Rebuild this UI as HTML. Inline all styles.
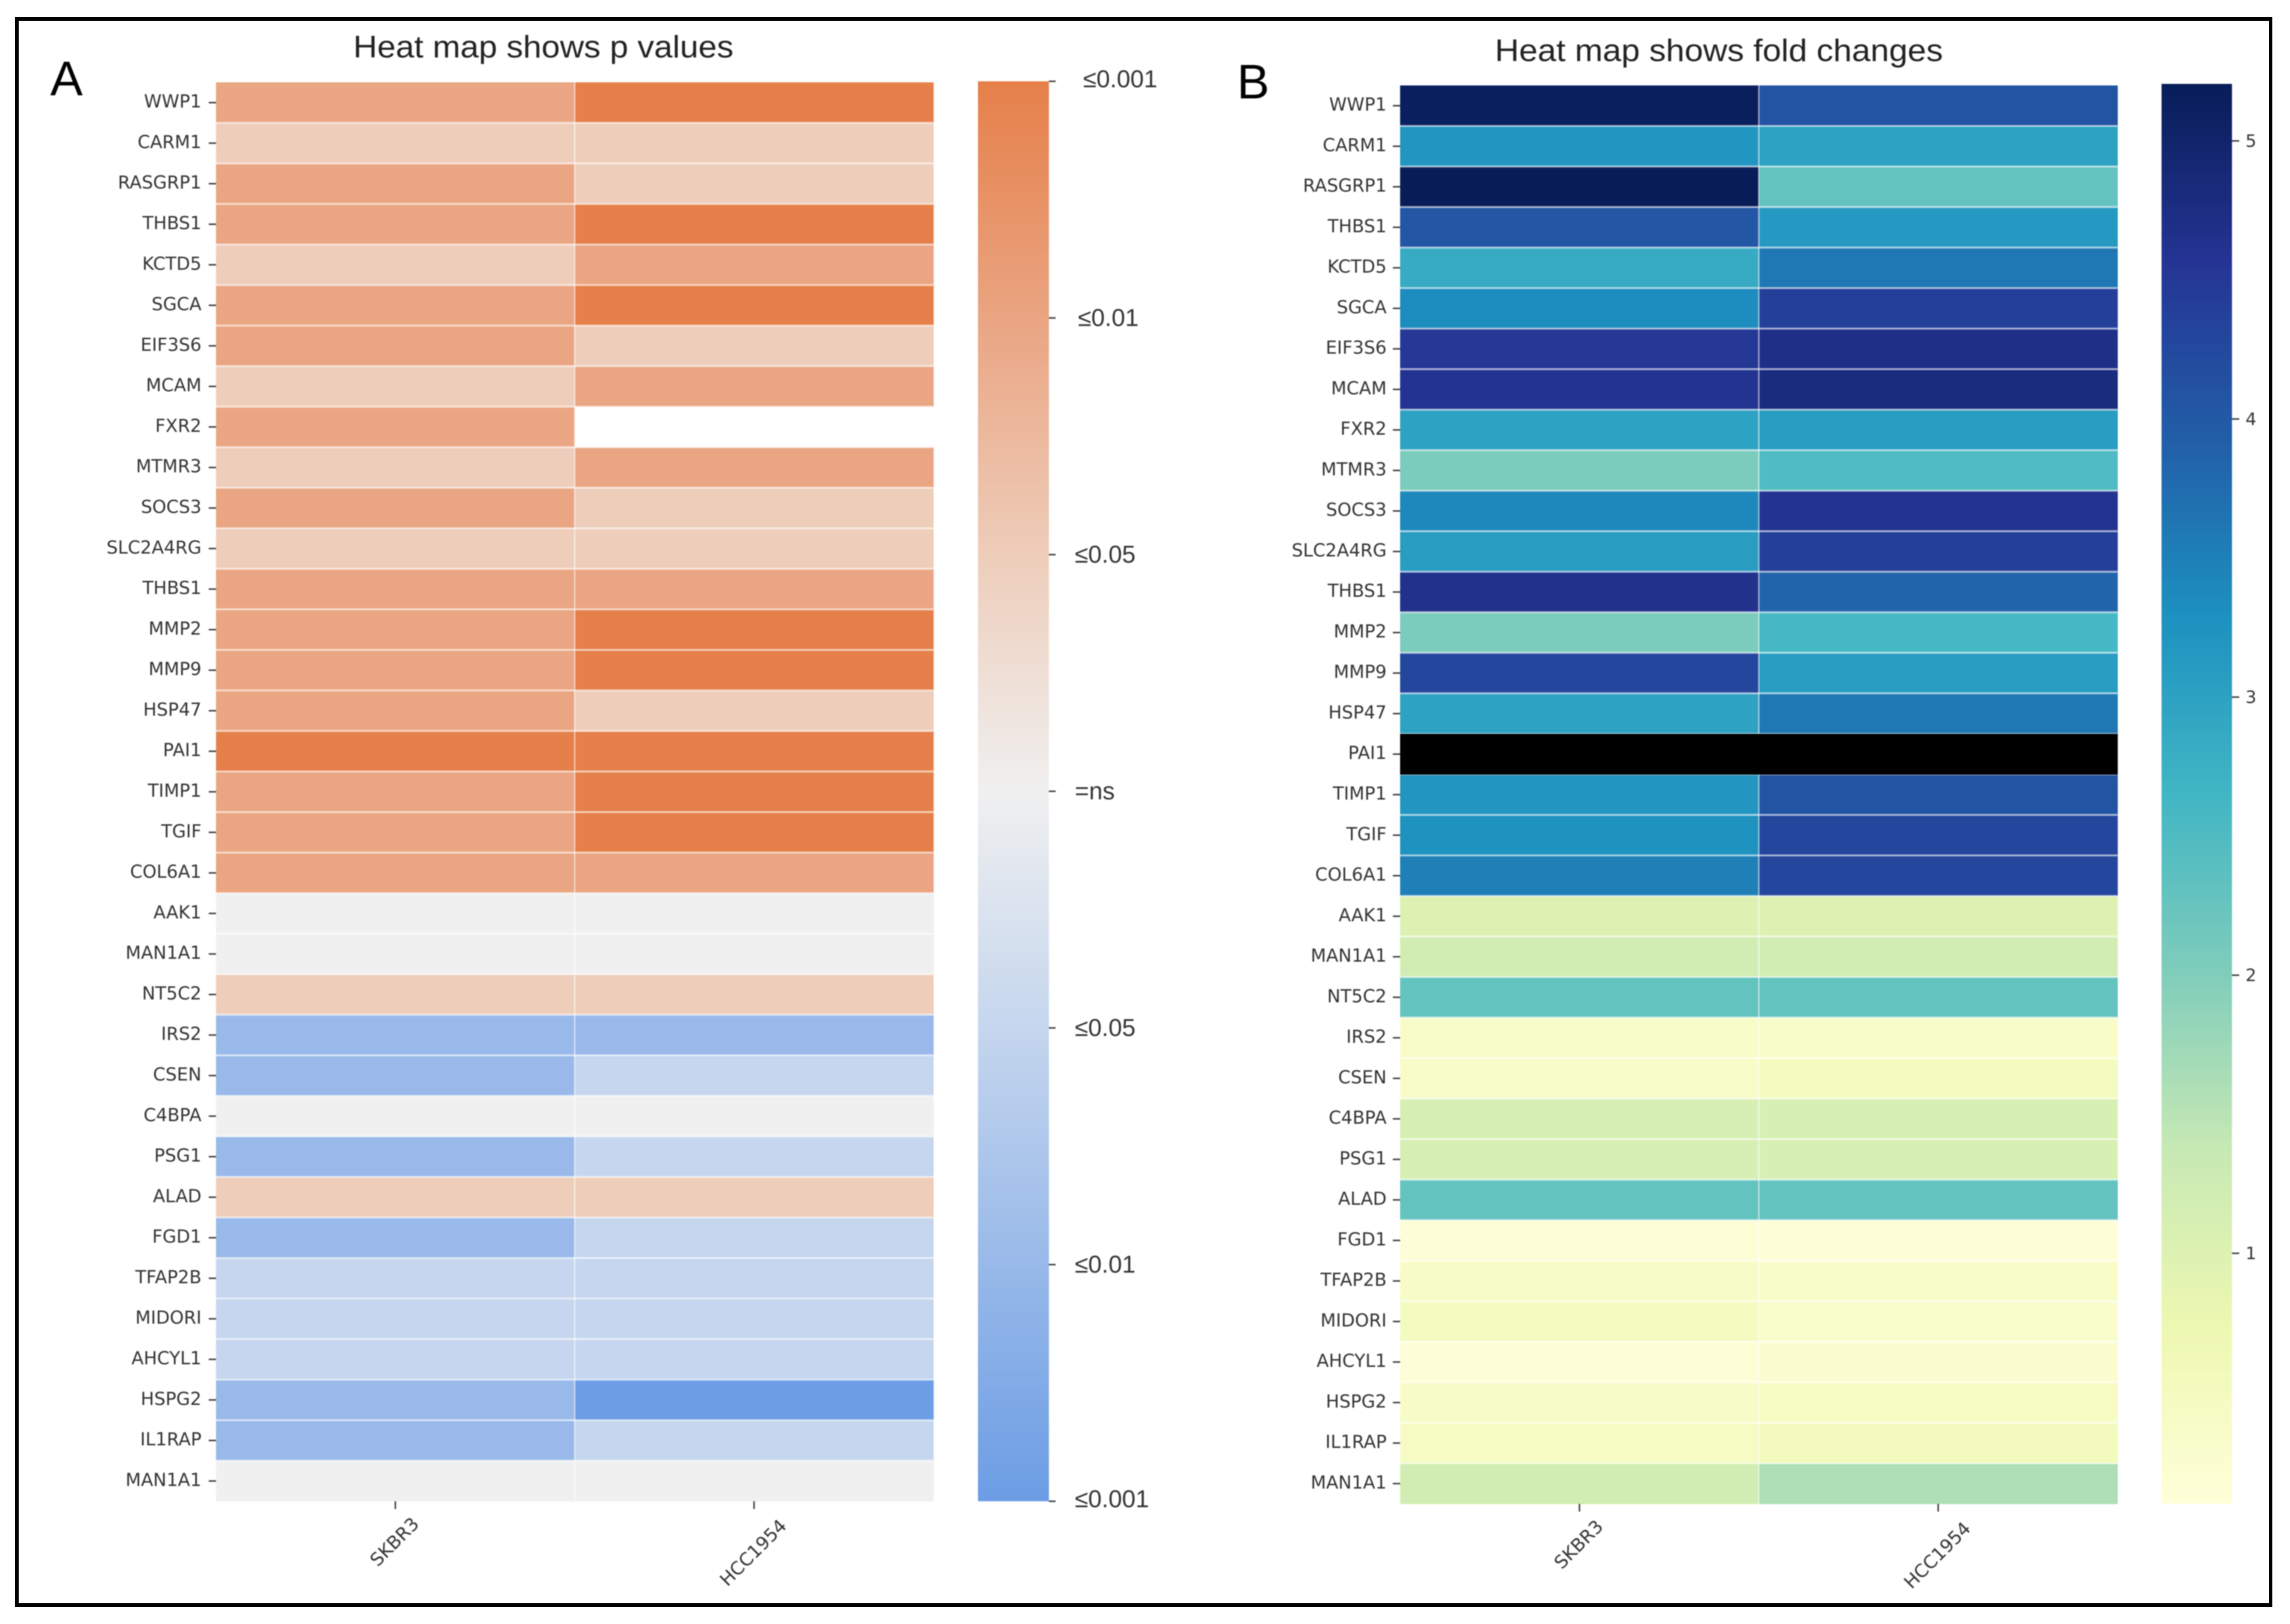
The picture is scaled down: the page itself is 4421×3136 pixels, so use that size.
<!DOCTYPE html>
<html lang="en">
<head>
<meta charset="utf-8">
<title>Heat maps of p values and fold changes</title>
<style>
  html, body { margin: 0; padding: 0; background: #fff; width: 4421px; height: 3136px; overflow: hidden; }
  svg { display: block; }
  text { fill: #333; }
  .dv { font-family: "DejaVu Sans", sans-serif; }
  .ls { font-family: "Liberation Sans", sans-serif; }
</style>
</head>
<body>
<svg id="figure" xmlns="http://www.w3.org/2000/svg" width="4421" height="3136" viewBox="0 0 4421 3136">
  <defs id="defs">
    <filter id="soft" filterUnits="userSpaceOnUse" x="0" y="0" width="4421" height="3136" color-interpolation-filters="sRGB">
      <feGaussianBlur stdDeviation="1"></feGaussianBlur>
    </filter>
  </defs>
  <rect x="0" y="0" width="4421" height="3136" fill="#fff"></rect>
  <g id="panels" filter="url(#soft)">
    <text class="ls" x="97" y="184" font-size="94" style="fill:#000">A</text>
    <text class="ls" x="2388" y="190" font-size="94" style="fill:#000">B</text>
    <text class="ls" x="682" y="111" font-size="60" textLength="734" lengthAdjust="spacingAndGlyphs" style="fill:#222">Heat map shows p values</text>
    <text class="ls" x="2886" y="118" font-size="60" textLength="865" lengthAdjust="spacingAndGlyphs" style="fill:#222">Heat map shows fold changes</text>
  </g>
  <rect x="32.5" y="36.5" width="4351" height="3063" fill="none" stroke="#000" stroke-width="7"></rect>
</svg>
<script>
// ---------- data ----------
const genes = ["WWP1","CARM1","RASGRP1","THBS1","KCTD5","SGCA","EIF3S6","MCAM","FXR2","MTMR3","SOCS3","SLC2A4RG","THBS1","MMP2","MMP9","HSP47","PAI1","TIMP1","TGIF","COL6A1","AAK1","MAN1A1","NT5C2","IRS2","CSEN","C4BPA","PSG1","ALAD","FGD1","TFAP2B","MIDORI","AHCYL1","HSPG2","IL1RAP","MAN1A1"];
const cellLines = ["SKBR3","HCC1954"];

// signed significance level: 3 = up p<=0.001, 2 = up p<=0.01, 1 = up p<=0.05, 0 = ns, negatives = down
const pLevelsSKBR3 = [2,1,2,2,1,2,2,1,2,1,2,1,2,2,2,2,3,2,2,2,0,0,1,-2,-2,0,-2,1,-2,-1,-1,-1,-2,-2,0];
const pLevelsHCC1954 = [3,1,1,3,2,3,1,2,null,2,1,1,2,3,3,1,3,3,3,2,0,0,1,-2,-1,0,-1,1,-1,-1,-1,-1,-3,-1,0];

const foldSKBR3 = [5.15,3.2,5.2,4.05,2.85,3.35,4.5,4.6,3.0,2.05,3.4,3.1,4.65,2.05,4.3,3.0,6,3.2,3.25,3.5,1.0,1.2,2.3,0.35,0.35,1.1,1.1,2.3,0.15,0.4,0.5,0.15,0.4,0.45,1.2];
const foldHCC1954 = [4.1,3.0,2.3,3.15,3.6,4.4,4.7,4.8,3.1,2.5,4.6,4.4,3.85,2.6,3.1,3.6,6,4.1,4.3,4.3,1.0,1.2,2.3,0.35,0.5,1.1,1.1,2.3,0.15,0.35,0.3,0.25,0.45,0.55,1.6];

const pTickLevels = [3,2,1,0,-1,-2,-3];
const pTickLabels = ["\u22640.001","\u22640.01","\u22640.05","=ns","\u22640.05","\u22640.01","\u22640.001"];
const foldTicks = [5,4,3,2,1];
const foldMin = 0.099;
const foldMax = 5.205;

// ---------- colour maps ----------
const pColors = ["#E6804A","#EAA582","#EECDBA","#F0F0F0","#C5D6EE","#98B9E9","#6C9DE5"];
const foldColors = ["#ffffd9","#edf8b1","#c7e9b4","#7fcdbb","#41b6c4","#1d91c0","#225ea8","#253494","#081d58"];

function hexToRgb(h) {
  return [parseInt(h.slice(1,3),16), parseInt(h.slice(3,5),16), parseInt(h.slice(5,7),16)];
}
function rampColor(colors, t) {
  const u = Math.max(0, Math.min(1, t)) * (colors.length - 1);
  const i = Math.min(Math.floor(u), colors.length - 2);
  const f = u - i;
  const a = hexToRgb(colors[i]), b = hexToRgb(colors[i + 1]);
  const c = a.map((v, k) => Math.round(v + (b[k] - v) * f));
  return "rgb(" + c.join(",") + ")";
}
function pColor(level) {
  return rampColor(pColors, (3 - level) / 6);
}
function foldColor(v) {
  if (v > foldMax) return "#000000";
  return rampColor(foldColors, (v - foldMin) / (foldMax - foldMin));
}

// ---------- layout ----------
const panelA = { left: 417, right: 1802, top: 159, bottom: 2899, labelRight: 389, tickLeft: 403,
  barLeft: 1888, barRight: 2025, barTop: 157, barBottom: 2899 };
const panelB = { left: 2703, right: 4088, top: 165, bottom: 2904, labelRight: 2677, tickLeft: 2689,
  barLeft: 4173, barRight: 4309, barTop: 162, barBottom: 2904 };

const SVGNS = "http://www.w3.org/2000/svg";
const root = document.getElementById("panels");
const defs = document.getElementById("defs");

function make(tag, attrs, parent) {
  const el = document.createElementNS(SVGNS, tag);
  for (const k in attrs) el.setAttribute(k, attrs[k]);
  (parent || root).appendChild(el);
  return el;
}

// ---------- axis functions ----------
function rowY(panel, i) {
  return panel.top + (panel.bottom - panel.top) * i / genes.length;
}
function colX(panel, j) {
  return panel.left + (panel.right - panel.left) * j / cellLines.length;
}
function pBarY(level) {
  return panelA.barTop + (3 - level) / 6 * (panelA.barBottom - panelA.barTop);
}
function foldBarY(v) {
  return panelB.barBottom - (v - foldMin) / (foldMax - foldMin) * (panelB.barBottom - panelB.barTop);
}

// ---------- heat map drawing ----------
function drawCell(panel, prefix, g, colorFn, v, i, j) {
  const cell = make("rect", {
    x: colX(panel, j), y: rowY(panel, i),
    width: colX(panel, j + 1) - colX(panel, j) + 0.5,
    height: rowY(panel, i + 1) - rowY(panel, i) + 0.5,
    fill: colorFn(v)
  }, g);
  
  
}

function drawHeatmap(panel, prefix, columns, colorFn) {
  const g = make("g", {});
  
  

  columns.forEach((values, j) => {
    values.forEach((v, i) => {
      if (v === null || colorFn(v) === "#000000") return;
      drawCell(panel, prefix, g, colorFn, v, i, j);
    });
  });

  // white cell separators
  for (let i = 1; i < genes.length; i++) {
    const rule = make("line", {
      x1: panel.left, x2: panel.right, y1: rowY(panel, i), y2: rowY(panel, i),
      stroke: "#fff", "stroke-opacity": 0.62, "stroke-width": 3.6
    }, g);
    
    
  }
  for (let j = 1; j < cellLines.length; j++) {
    const rule = make("line", {
      x1: colX(panel, j), x2: colX(panel, j), y1: panel.top, y2: panel.bottom,
      stroke: "#fff", "stroke-opacity": 0.6, "stroke-width": 2.6
    }, g);
    
    
  }

  // out-of-range (black) cells sit on top of the separators
  columns.forEach((values, j) => {
    values.forEach((v, i) => {
      if (v === null || colorFn(v) !== "#000000") return;
      drawCell(panel, prefix, g, colorFn, v, i, j);
    });
  });

  // y axis
  genes.forEach((name, i) => {
    const cy = (rowY(panel, i) + rowY(panel, i + 1)) / 2;
    const tick = make("line", {
      x1: panel.tickLeft, x2: panel.left, y1: cy, y2: cy,
      stroke: "#444", "stroke-width": 3
    });
    
    
    const label = make("text", {
      x: panel.labelRight, y: cy - 1.5, "text-anchor": "end", "dominant-baseline": "central",
      "font-size": 34.5, class: "dv"
    });
    label.textContent = name;
    
    
  });

  // x axis
  cellLines.forEach((name, j) => {
    const cx = (colX(panel, j) + colX(panel, j + 1)) / 2;
    const tick = make("line", {
      x1: cx, x2: cx, y1: panel.bottom, y2: panel.bottom + 15,
      stroke: "#444", "stroke-width": 3
    });
    
    
    const lx = cx - 1;
    const ly = panel.bottom + 26.5 + name.length * 10.5;
    const label = make("text", {
      x: lx, y: ly, "text-anchor": "middle", "dominant-baseline": "central",
      "font-size": 35, class: "dv", transform: "rotate(-45 " + lx + " " + ly + ")"
    });
    label.textContent = name;
    
    
  });
}

function drawColorbar(panel, prefix, colors) {
  const grad = make("linearGradient", { id: prefix + "-gradient", x1: 0, y1: 1, x2: 0, y2: 0 }, defs);
  colors.forEach((c, i) => {
    make("stop", { offset: i / (colors.length - 1), "stop-color": c }, grad);
  });
  const bar = make("rect", {
    x: panel.barLeft, y: panel.barTop,
    width: panel.barRight - panel.barLeft,
    height: panel.barBottom - panel.barTop,
    fill: "url(#" + prefix + "-gradient)"
  });
  
  
}

// ---------- render ----------
drawHeatmap(panelA, "p-value", [pLevelsSKBR3, pLevelsHCC1954], pColor);
drawHeatmap(panelB, "fold-change", [foldSKBR3, foldHCC1954], foldColor);

drawColorbar(panelA, "p-value", pColors.slice().reverse());
drawColorbar(panelB, "fold-change", foldColors);

pTickLevels.forEach((level, i) => {
  const y = pBarY(level);
  const tick = make("line", {
    x1: panelA.barRight, x2: panelA.barRight + 13, y1: y, y2: y,
    stroke: "#444", "stroke-width": 3
  });
  
  
  const nudgeX = level === 3 ? 16 : (level === 2 ? 6 : 0);
  const nudgeY = level === -3 ? -5 : (level === 3 ? -5 : -1);
  const label = make("text", {
    x: panelA.barRight + 50 + nudgeX, y: y + nudgeY, "dominant-baseline": "central",
    "font-size": 47, class: "ls"
  });
  label.textContent = pTickLabels[i];
  
  
});

foldTicks.forEach((v) => {
  const y = foldBarY(v);
  const tick = make("line", {
    x1: panelB.barRight, x2: panelB.barRight + 14, y1: y, y2: y,
    stroke: "#444", "stroke-width": 3
  });
  
  
  const label = make("text", {
    x: panelB.barRight + 26, y: y, "dominant-baseline": "central",
    "font-size": 33.3, class: "dv"
  });
  label.textContent = String(v);
  
  
});
</script>
</body>
</html>
